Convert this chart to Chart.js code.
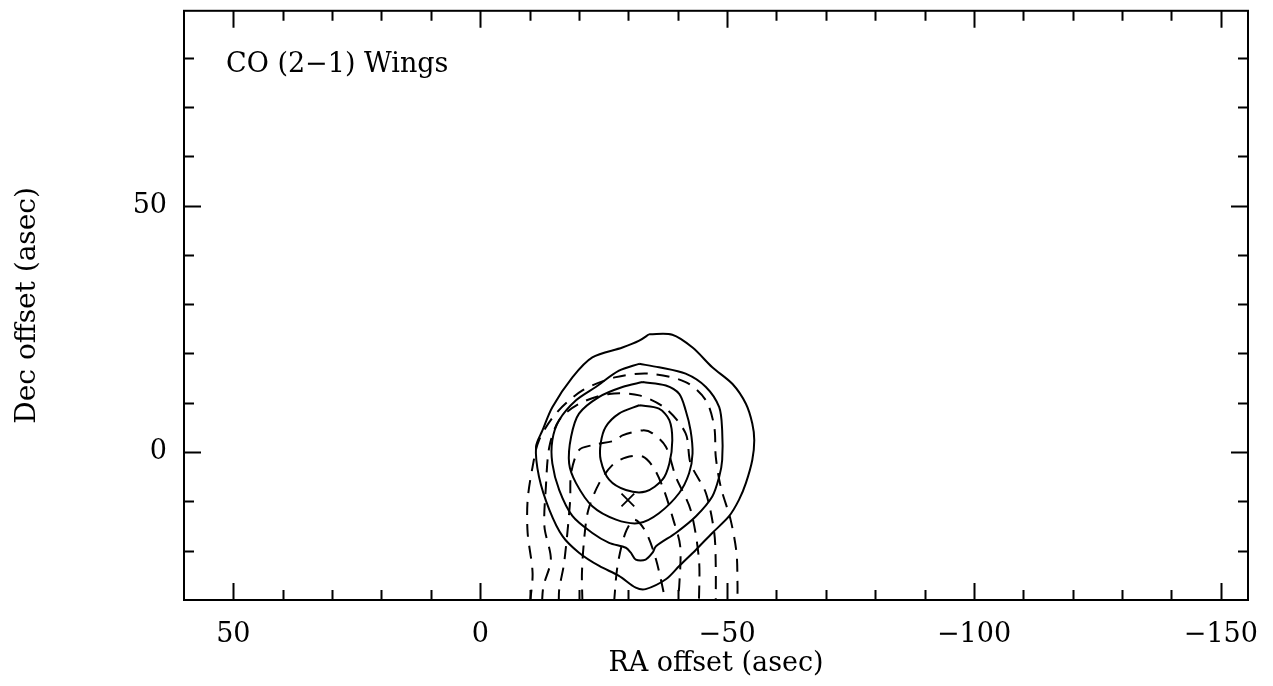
<html lang="en">
<head>
    <meta charset="UTF-8"/>
    <title>CO (2-1) Wings</title>
    <script src="https://cdn.jsdelivr.net/npm/chart.js@4/dist/chart.umd.min.js"></script>
    <style>
        html, body { margin: 0; padding: 0; background: #fff; }
        #wrap { width: 1273px; height: 686px; }
    </style>
</head>
<body>
<div id="wrap"><canvas id="myChart" width="1273" height="686"></canvas></div>
<script>
    // axis ranges (asec)
    const xRange = [60, -155.5];
    const yRange = [-30, 89.5];

    const xTickLabels = [50, 0, -50, -100, -150];
    const yTickLabels = [0, 50];
    const xMinorTicks = [50, 40, 30, 20, 10, 0, -10, -20, -30, -40, -50, -60, -70, -80, -90, -100, -110, -120, -130, -140, -150];
    const yMinorTicks = [-20, -10, 0, 10, 20, 30, 40, 50, 60, 70, 80];

    // solid contours (closed), [RA offset, Dec offset]
    const solid1 = [[-34.2, 23.9], [-38.9, 23.8], [-43.0, 21.2], [-47.0, 17.2], [-51.1, 13.8], [-53.8, 9.8],
        [-55.1, 5.8], [-55.5, 2.4], [-55.1, -1.6], [-53.8, -6.3], [-52.4, -9.7], [-50.4, -13.0], [-47.0, -16.4],
        [-43.7, -19.8], [-40.3, -23.1], [-37.6, -25.8], [-33.5, -27.8], [-31.5, -27.5], [-28.1, -25.1],
        [-24.1, -23.1], [-20.0, -20.4], [-16.7, -17.1], [-14.0, -11.7], [-11.9, -5.0], [-11.3, 1.1],
        [-12.6, 4.4], [-14.6, 9.1], [-18.7, 15.2], [-22.7, 19.2], [-28.8, 21.2], [-32.2, 22.6], [-34.2, 23.9]];
    const solid2 = [[-32.2, 17.9], [-36.2, 17.2], [-41.6, 15.9], [-45.7, 13.2], [-48.4, 9.1], [-49.0, 4.4],
        [-49.0, -1.6], [-48.4, -5.0], [-47.0, -9.0], [-43.7, -13.0], [-39.6, -16.4], [-35.6, -19.1],
        [-34.9, -20.4], [-33.5, -21.8], [-31.5, -21.8], [-30.5, -20.4], [-29.5, -19.4], [-26.1, -18.4],
        [-22.7, -16.4], [-18.7, -13.0], [-16.0, -7.7], [-14.6, -2.3], [-14.6, 2.4], [-16.0, 6.5],
        [-19.4, 10.5], [-23.4, 13.2], [-28.1, 16.5], [-32.2, 17.9]];
    const solid3 = [[-32.9, 14.2], [-37.6, 13.5], [-40.3, 11.8], [-41.6, 8.5], [-42.6, 4.4], [-43.0, -0.3],
        [-42.3, -4.3], [-40.3, -8.3], [-36.2, -12.4], [-32.2, -14.4], [-27.5, -13.7], [-22.7, -11.0],
        [-19.4, -6.3], [-18.0, -2.3], [-18.4, 3.1], [-20.0, 7.8], [-24.1, 11.2], [-28.8, 13.2], [-32.9, 14.2]];
    const solid4 = [[-32.2, 9.5], [-36.2, 8.8], [-38.3, 6.5], [-38.9, 2.4], [-38.3, -2.3], [-36.9, -5.6],
        [-33.5, -8.0], [-29.5, -7.7], [-26.1, -5.6], [-24.4, -1.6], [-24.4, 1.8], [-25.4, 5.1],
        [-28.1, 7.8], [-32.2, 9.5]];

    // dashed contours (open, leaving through the bottom edge)
    const dashed0 = [[-27.1, -30.5], [-27.8, -23.1], [-29.4, -16.4], [-31.2, -13.7], [-33.5, -16.1],
        [-35.6, -21.8], [-37.6, -30.5]];
    const dashed1 = [[-20.7, -30.5], [-20.6, -24.5], [-21.1, -17.1], [-21.9, -11.7], [-24.1, -6.3],
        [-26.8, -2.6], [-29.5, -1.1], [-32.9, -0.9], [-35.2, -3.3], [-37.2, -7.7], [-39.1, -13.7],
        [-40.5, -19.1], [-40.3, -27.2], [-39.9, -30.5]];
    const dashed2 = [[-15.9, -30.5], [-16.0, -27.8], [-17.0, -22.4], [-18.2, -10.0], [-18.4, -4.3],
        [-20.0, 0.4], [-22.7, 1.4], [-27.5, 2.4], [-28.8, 3.4], [-32.9, 4.4], [-34.9, 3.8], [-37.6, 1.1],
        [-39.6, -5.0], [-42.6, -11.7], [-44.3, -21.8], [-44.3, -30.5]];
    const dashed3 = [[-12.5, -30.5], [-12.8, -27.2], [-14.3, -21.8], [-13.0, -15.1], [-13.3, -7.0],
        [-14.0, 1.1], [-16.0, 6.5], [-20.0, 9.8], [-26.1, 11.8], [-32.2, 11.5], [-37.6, 8.8], [-41.6, 3.8],
        [-42.6, -2.3], [-45.7, -8.3], [-47.4, -16.4], [-47.7, -23.1], [-47.7, -30.5]];
    const dashed4 = [[-10.1, -30.5], [-10.6, -24.5], [-9.6, -16.4], [-9.6, -9.7], [-10.6, -3.0],
        [-11.9, 2.4], [-15.3, 7.8], [-20.7, 12.5], [-27.5, 15.2], [-34.2, 15.9], [-41.6, 14.2],
        [-45.7, 10.5], [-47.4, 5.1], [-47.7, -0.9], [-48.7, -7.0], [-50.7, -13.7], [-51.9, -20.4],
        [-52.1, -26.5], [-52.1, -30.5]];

    const peak = [[-29.9, -9.7]];

    const fontFamily = '"DejaVu Serif", serif';

    function contour(points, dashed) {
        return {
            type: 'line',
            data: points.map(p => ({x: p[0], y: p[1]})),
            borderColor: '#000',
            borderWidth: 2,
            borderDash: dashed ? [13, 9] : [],
            pointRadius: 0,
            fill: false,
            tension: 0.3
        };
    }

    function noEdgePadding(scale) {
        scale.paddingTop = 0;
        scale.paddingBottom = 0;
        scale.paddingLeft = 0;
        scale.paddingRight = 0;
    }

    // inward ticks on all four sides, the frame and the axis titles
    const framePlugin = {
        id: 'frame',
        afterDraw(chart) {
            const ctx = chart.ctx;
            const a = chart.chartArea;
            const xs = chart.scales.x;
            const ys = chart.scales.y;
            ctx.save();
            ctx.strokeStyle = '#000';
            ctx.lineWidth = 2;
            ctx.strokeRect(a.left, a.top, a.right - a.left, a.bottom - a.top);

            ctx.beginPath();
            for (let v of xMinorTicks) {
                const px = Math.round(xs.getPixelForValue(v)) + 0.5;
                const len = xTickLabels.includes(v) ? 17 : 10;
                ctx.moveTo(px, a.bottom);
                ctx.lineTo(px, a.bottom - len);
                ctx.moveTo(px, a.top);
                ctx.lineTo(px, a.top + len);
            }
            for (let v of yMinorTicks) {
                const py = Math.round(ys.getPixelForValue(v)) + 0.5;
                const len = yTickLabels.includes(v) ? 17 : 10;
                ctx.moveTo(a.left, py);
                ctx.lineTo(a.left + len, py);
                ctx.moveTo(a.right, py);
                ctx.lineTo(a.right - len, py);
            }
            ctx.stroke();

            ctx.fillStyle = '#000';
            ctx.font = '27px ' + fontFamily;
            ctx.textAlign = 'center';
            ctx.textBaseline = 'middle';
            ctx.fillText('RA offset (asec)', (a.left + a.right) / 2, 664);

            ctx.translate(28, (a.top + a.bottom) / 2);
            ctx.rotate(-Math.PI / 2);
            ctx.font = '28px ' + fontFamily;
            ctx.fillText('Dec offset (asec)', 0, 0);
            ctx.restore();

            ctx.save();
            ctx.fillStyle = '#000';
            ctx.font = '27px ' + fontFamily;
            ctx.textAlign = 'left';
            ctx.textBaseline = 'middle';
            ctx.fillText('CO (2\u22121) Wings', 226, 65);
            ctx.restore();
        }
    };

    const ctx = document.getElementById('myChart').getContext('2d');

    new Chart(ctx, {
        data: {
            datasets: [
                contour(solid1, false),
                contour(solid2, false),
                contour(solid3, false),
                contour(solid4, false),
                contour(dashed0, true),
                contour(dashed1, true),
                contour(dashed2, true),
                contour(dashed3, true),
                contour(dashed4, true),
                {
                    type: 'scatter',
                    data: peak.map(p => ({x: p[0], y: p[1]})),
                    pointStyle: 'crossRot',
                    pointRadius: 9,
                    borderColor: '#000',
                    borderWidth: 1.8
                }
            ]
        },
        options: {
            responsive: false,
            animation: false,
            layout: {
                padding: {top: 8, right: 25, left: 0, bottom: 0}
            },
            plugins: {
                legend: {display: false},
                tooltip: {enabled: false}
            },
            scales: {
                x: {
                    type: 'linear',
                    reverse: true,
                    min: xRange[1],
                    max: xRange[0],
                    grid: {display: false, drawTicks: false},
                    border: {display: false},
                    afterBuildTicks: (scale) => {
                        scale.ticks = xTickLabels.map(v => ({value: v}));
                    },
                    afterFit: (scale) => {
                        scale.height = 86;
                        noEdgePadding(scale);
                    },
                    ticks: {
                        padding: 19,
                        color: '#000',
                        maxRotation: 0,
                        font: {family: fontFamily, size: 27},
                        callback: (v) => v < 0 ? '\u2212' + Math.abs(v) : String(v)
                    }
                },
                y: {
                    type: 'linear',
                    min: yRange[0],
                    max: yRange[1],
                    grid: {display: false, drawTicks: false},
                    border: {display: false},
                    afterBuildTicks: (scale) => {
                        scale.ticks = yTickLabels.map(v => ({value: v}));
                    },
                    afterFit: (scale) => {
                        scale.width = 184;
                        noEdgePadding(scale);
                    },
                    ticks: {
                        padding: 17,
                        color: '#000',
                        font: {family: fontFamily, size: 27},
                        callback: (v) => String(v)
                    }
                }
            }
        },
        plugins: [framePlugin]
    });
</script>
</body>
</html>
